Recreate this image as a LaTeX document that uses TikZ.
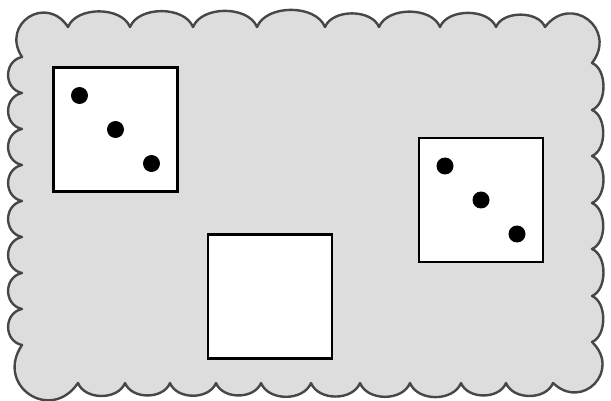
\documentclass[tikz,border=0pt]{standalone}
\begin{document}
\begin{tikzpicture}[x=1pt,y=-1pt,
  outline/.style={fill=gray!27,draw=black!72,line width=2.4pt,line join=round},
  tbump/.style={bend left=68,looseness=0.93},
  rbump/.style={bend left=68,looseness=0.9},
  bbump/.style={bend left=68,looseness=1.02},
  lbump/.style={bend left=78,looseness=1.35},
  cbump/.style={bend left=90,looseness=1.85},
  box/.style={draw,fill=white,line width=2.4pt,minimum size=124pt,inner sep=0pt},
  dot/.style={circle,fill=black,minimum size=17pt,inner sep=0pt}]
  \useasboundingbox (0,0) rectangle (611,401);
  % scalloped region, clockwise
  \filldraw[outline] (22,57) to[cbump] (68,27)
    \foreach \x in {130,193,257,325,379,440,496,545} { to[tbump] (\x,27) }
    to[cbump] (592,63)
    \foreach \y in {110,156,203,249,296,342} { to[rbump] (592,\y) }
    to[cbump] (553,383)
    \foreach \x in {506,461,410,360,311,261,216,170,125,78} { to[bbump] (\x,383) }
    to[cbump] (22,345)
    \foreach \y in {309,273,237,201,165,129,93,57} { to[lbump] (22,\y) }
    -- cycle;
  % the three squares
  \node[box] (sq1) at (115.5,129.5) {};
  \node[box] (sq2) at (270,296.5) {};
  \node[box] (sq3) at (481,200) {};
  % dots on the diagonals
  \foreach \s in {1,3} {
    \node[dot] (d\s a) at ([shift={(-36,-34)}]sq\s.center) {};
    \node[dot] (d\s b) at (sq\s.center) {};
    \node[dot] (d\s c) at ([shift={(36,34)}]sq\s.center) {};
  }
\end{tikzpicture}
\end{document}
